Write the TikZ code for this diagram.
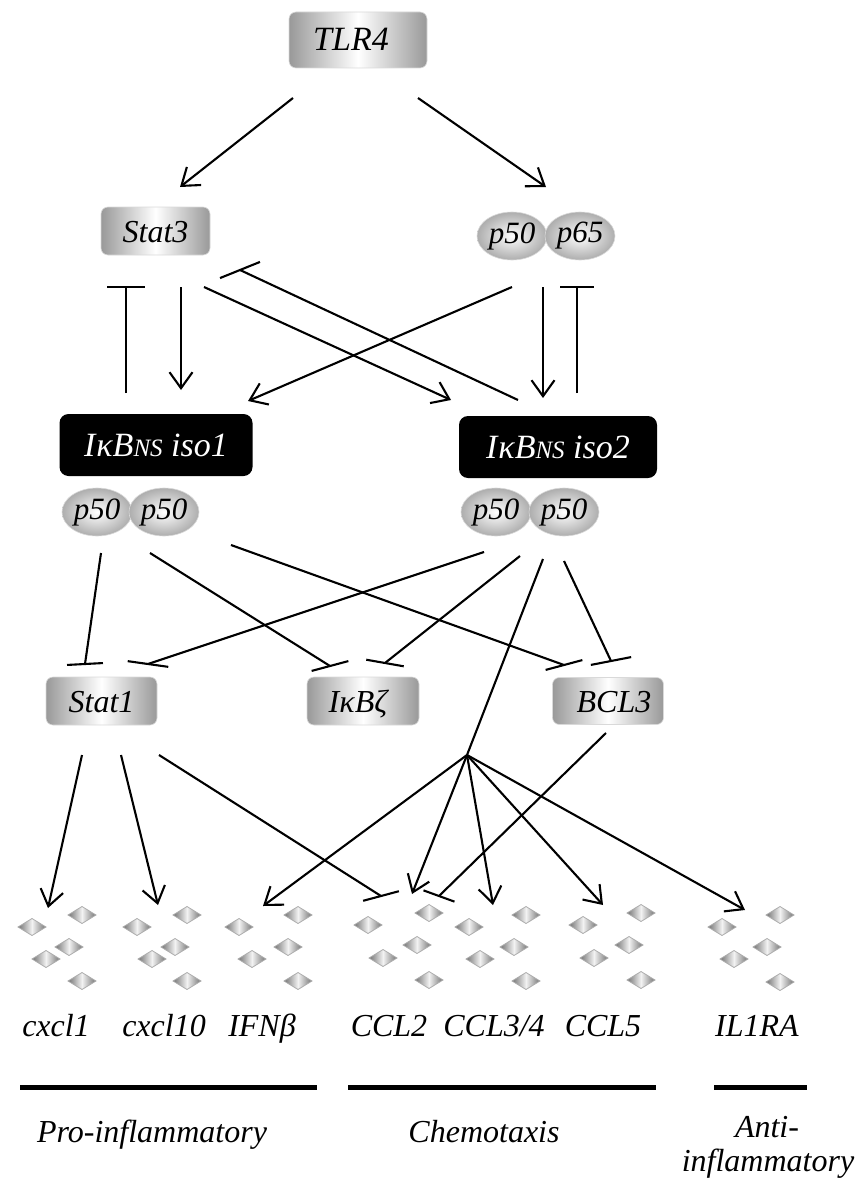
\documentclass[tikz,border=0pt]{standalone}
\usepackage{fontspec}
\setmainfont{Liberation Serif}
\usetikzlibrary{arrows.meta,shapes.geometric}

\tikzset{
  lab/.style={font=\itshape\fontsize{32}{38}\selectfont},
  graybox/.style={rounded corners=7pt, draw=black!15, line width=0.6pt,
    left color=black!40, right color=black!40, middle color=white,
    text height=22pt, text depth=0pt, inner sep=0pt, lab},
  blackbox/.style={rounded corners=9pt, fill=black, text=white,
    text height=22pt, text depth=0pt, inner sep=0pt,
    font=\itshape\fontsize{34}{40}\selectfont},
  prot/.style={ellipse, draw=black!15, line width=0.6pt,
    inner color=white, outer color=black!32,
    minimum width=70pt, minimum height=48pt, inner sep=0pt,
    font=\itshape\fontsize{31}{36}\selectfont},
  gene/.style={anchor=base, lab},
  cat/.style={anchor=base, lab},
  act/.style={line width=2.1pt, -{Straight Barb[length=16pt,width=23pt,line width=2.1pt]}},
  inh/.style={line width=2.1pt},
  grp/.style={line width=5pt},
}

% inhibition bar of length #3 centred on coordinate #1, tilted by #2 degrees
\newcommand\tbar[3]{\draw[inh] (#1) ++(#2:-#3/2) -- ++(#2:#3);}
% one small shaded diamond marking a transcript
\newcommand\gem[2]{\shade[left color=black!55, right color=black!55, middle color=black!5,
  draw=black!32, line width=0.8pt]
  (#1,#2) ++(-14,0) -- ++(14,-8.5) -- ++(14,8.5) -- ++(-14,8.5) -- cycle;}

\begin{document}
\begin{tikzpicture}[x=1pt,y=-1pt]
\useasboundingbox (0,0) rectangle (856,1180);

% ---------- receptor and first-level regulators ----------
\node[graybox, minimum width=138pt, minimum height=56pt,
  font=\itshape\fontsize{34}{40}\selectfont] (tlr4) at (358,40) {TLR4\hspace*{14pt}};
\node[graybox, minimum width=109pt, minimum height=48pt] (stat3) at (155.5,231) {Stat3};
\node[prot] (p50a) at (512,236) {p50};
\node[prot] (p65) at (580,236) {p65};

% ---------- IkBNS isoforms with their p50 homodimers ----------
\node[blackbox, minimum width=193pt, minimum height=62pt] (iso1) at (156,445)
  {I\kern1ptκB{\fontsize{25}{30}\selectfont NS} iso1};
\node[blackbox, minimum width=198pt, minimum height=62pt] (iso2) at (558,447)
  {I\kern1ptκB{\fontsize{25}{30}\selectfont NS} iso2};
\node[prot] (p50b) at (97,512) {p50};
\node[prot] (p50c) at (164,512) {p50};
\node[prot] (p50d) at (496,512) {p50};
\node[prot] (p50e) at (564,512) {p50};

% ---------- secondary regulators ----------
\node[graybox, minimum width=111pt, minimum height=48pt] (stat1) at (101.5,701) {Stat1};
\node[graybox, minimum width=112pt, minimum height=48pt] (ikbz) at (363,701) {IκBζ\hspace*{10pt}};
\node[graybox, minimum width=111pt, minimum height=47pt] (bcl3) at (608,701) {\hspace*{12pt}BCL3};

% ---------- connector end points ----------
\coordinate (tA) at (293,98);   \coordinate (s3in) at (180,187);
\coordinate (tB) at (418,98);   \coordinate (pin) at (546,187);
\coordinate (i1up) at (126,393); \coordinate (s3bar) at (126,287);
\coordinate (s3a) at (181,287); \coordinate (i1a) at (181,390);
\coordinate (s3b) at (204,287); \coordinate (i2a) at (451,400);
\coordinate (i2up) at (518,400); \coordinate (s3bar2) at (240,270);
\coordinate (pa) at (512,287);  \coordinate (i1b) at (248,401);
\coordinate (pb) at (543,287);  \coordinate (i2b) at (543,398);
\coordinate (i2up2) at (577,393); \coordinate (pbar) at (577,287);

\coordinate (d1a) at (101,553); \coordinate (st1bar1) at (85,664);
\coordinate (d1b) at (150,553); \coordinate (izbar1) at (330,666);
\coordinate (d1c) at (231,545); \coordinate (bcbar1) at (564,665);
\coordinate (d2a) at (484,552); \coordinate (st1bar2) at (148,664);
\coordinate (d2b) at (520,556); \coordinate (izbar2) at (385,663);
\coordinate (d2c) at (543,559); \coordinate (hub) at (467,755);
\coordinate (d2d) at (564,561); \coordinate (bcbar2) at (611,661);

\coordinate (st1a) at (82,755);  \coordinate (cx1) at (48,908);
\coordinate (st1b) at (121,755); \coordinate (cx10) at (158,905);
\coordinate (st1c) at (159,755); \coordinate (ccl2bar1) at (381,896);
\coordinate (bcl3o) at (606,733); \coordinate (ccl2bar2) at (439,896);
\coordinate (ifn) at (263,906);  \coordinate (ccl2) at (412,894);
\coordinate (ccl34) at (493,905); \coordinate (ccl5) at (603,905);
\coordinate (il1ra) at (745,910);

% ---------- TLR4 signalling ----------
\draw[act] (tA) -- (s3in);
\draw[act] (tB) -- (pin);

% ---------- Stat3 / NF-kB and the isoforms ----------
\draw[inh] (i1up) -- (s3bar); \tbar{s3bar}{0}{38}
\draw[act] (s3a) -- (i1a);
\draw[act] (s3b) -- (i2a);
\draw[inh] (i2up) -- (s3bar2); \tbar{s3bar2}{-22}{43}
\draw[act] (pa) -- (i1b);
\draw[act] (pb) -- (i2b);
\draw[inh] (i2up2) -- (pbar); \tbar{pbar}{0}{34}

% ---------- repression by the p50 homodimers ----------
\draw[inh] (d1a) -- (st1bar1); \tbar{st1bar1}{-3}{36}
\draw[inh] (d2a) -- (st1bar2); \tbar{st1bar2}{8}{41}
\draw[inh] (d1b) -- (izbar1); \tbar{izbar1}{-15}{38}
\draw[inh] (d2b) -- (izbar2); \tbar{izbar2}{10}{38}
\draw[inh] (d1c) -- (bcbar1); \tbar{bcbar1}{-15}{38}
\draw[inh] (d2d) -- (bcbar2); \tbar{bcbar2}{-11}{41}
\draw[inh] (d2c) -- (hub);

% ---------- target genes ----------
\draw[act] (st1a) -- (cx1);
\draw[act] (st1b) -- (cx10);
\draw[inh] (st1c) -- (ccl2bar1); \tbar{ccl2bar1}{-15}{37}
\draw[inh] (bcl3o) -- (ccl2bar2); \tbar{ccl2bar2}{20}{33}
\draw[act] (hub) -- (ifn);
\draw[act] (hub) -- (ccl2);
\draw[act] (hub) -- (ccl34);
\draw[act] (hub) -- (ccl5);
\draw[act] (hub) -- (il1ra);

% ---------- transcripts ----------
\gem{32}{927}\gem{82}{915}\gem{69}{947}\gem{46}{959}\gem{82}{981}
\gem{137}{927}\gem{187}{915}\gem{175}{947}\gem{152}{959}\gem{187}{981}
\gem{239}{927}\gem{298}{915}\gem{288}{947}\gem{252}{959}\gem{298}{981}
\gem{368}{925}\gem{429}{913}\gem{417}{945}\gem{383}{958}\gem{429}{980}
\gem{469}{927}\gem{526}{915}\gem{514}{947}\gem{480}{959}\gem{526}{981}
\gem{583}{925}\gem{641}{913}\gem{629}{945}\gem{594}{958}\gem{641}{980}
\gem{722}{927}\gem{780}{915}\gem{767}{947}\gem{734}{959}\gem{780}{982}

\node[gene] (g1) at (56,1036) {cxcl1};
\node[gene] (g2) at (164,1036) {cxcl10};
\node[gene] (g3) at (262,1036) {IFNβ};
\node[gene] (g4) at (389,1036) {CCL2};
\node[gene] (g5) at (494,1036) {CCL3/4};
\node[gene] (g6) at (603,1036) {CCL5};
\node[gene] (g7) at (757,1036) {IL1RA};

% ---------- functional classes ----------
\draw[grp] (20,1087) -- (317,1087);
\draw[grp] (348,1087) -- (656,1087);
\draw[grp] (714,1087) -- (807,1087);
\node[cat] (c1) at (152,1142) {Pro-inflammatory};
\node[cat] (c2) at (484,1142) {Chemotaxis};
\node[cat] (c3a) at (767,1137) {Anti-};
\node[cat] (c3b) at (768,1171) {inflammatory};
\end{tikzpicture}
\end{document}
